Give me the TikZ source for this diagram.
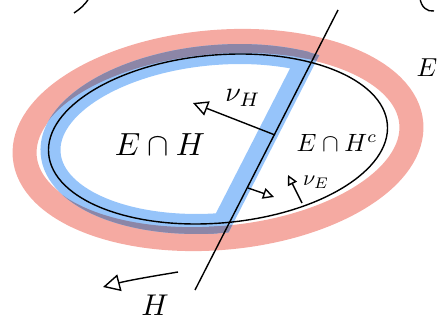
\documentclass[tikz,border=0pt]{standalone}
\usetikzlibrary{arrows.meta}
\definecolor{pinkE}{RGB}{245,170,162}
\definecolor{blueEH}{RGB}{150,196,250}
\definecolor{overlapEH}{RGB}{140,134,167}
\tikzset{
  penline/.style={line width=1.4pt},
  handtip/.style={penline, -{Triangle[open, length=#1, width=#1, line width=1.4pt]}},
  handtip/.default=12pt,
  bigfont/.style={scale=#1/10},
}
% boundary of E cap H: arc of E inside, side along H
\newcommand{\EHband}[1]{%
  \begin{scope}
    \clip (172,0) -- (346,340) -- (-20,340) -- (-20,0) -- cycle;
    \draw[#1, line width=20pt, shift={(218,182)}, rotate=5] (0,0) ellipse [x radius=168, y radius=84];
  \end{scope}
  \begin{scope}
    \clip[shift={(218,182)}, rotate=5] (0,0) ellipse [x radius=178, y radius=94];
    \draw[#1, line width=20pt] (172,0) -- (346,340);
  \end{scope}}
\begin{document}
\begin{tikzpicture}[x=1pt, y=1pt]
  \useasboundingbox (0,0) rectangle (441,321);
  % boundary of E
  \draw[pinkE, line width=24pt, shift={(218,181)}, rotate=5] (0,0) ellipse [x radius=194, y radius=98];
  \EHband{blueEH}
  \begin{scope}[even odd rule]
    \clip[shift={(218,181)}, rotate=5] (0,0) ellipse [x radius=206, y radius=110] (0,0) ellipse [x radius=182, y radius=86];
    \EHband{overlapEH}
  \end{scope}
  % E and the half space H
  \draw[penline, shift={(218,182)}, rotate=5] (0,0) ellipse [x radius=170, y radius=84];
  \coordinate (Htop) at (338,311);
  \coordinate (Hbot) at (195,31);
  \draw[penline] (Htop) -- (Hbot);
  % normals
  \coordinate (nuHfoot) at (275,186);
  \coordinate (nuHtip) at (193,218);
  \draw[handtip=15pt] (nuHfoot) -- (nuHtip);
  \coordinate (outfoot) at (248,133);
  \coordinate (outtip) at (274,124);
  \draw[handtip=11pt] (outfoot) -- (outtip);
  \coordinate (nuEfoot) at (302,118);
  \coordinate (nuEtip) at (288,146);
  \draw[handtip=10pt] (nuEfoot) -- (nuEtip);
  \coordinate (Harrtail) at (178,49);
  \coordinate (Harrtip) at (103,34);
  \draw[handtip=17pt] (Harrtail) .. controls (160,46) and (130,41) .. (Harrtip);
  % labels
  \node[bigfont=32] (EcapH) at (160,176) {$E\cap H$};
  \node[bigfont=25] (EcapHc) at (337,178) {$E\cap H^c$};
  \node[bigfont=28] (nuH) at (243,223) {$\nu_H$};
  \node[bigfont=22] (nuE) at (316,139) {$\nu_E$};
  \node[bigfont=30] (labH) at (155,16) {$H$};
  \node[bigfont=26] (labE) at (427,253) {$E$};
  % scraps cut by the border
  \draw[penline] (74,308) .. controls (80,312) and (85,316) .. (89,323);
  \draw[penline] (420,323) .. controls (421,314) and (427,309) .. (434,310);
\end{tikzpicture}
\end{document}
